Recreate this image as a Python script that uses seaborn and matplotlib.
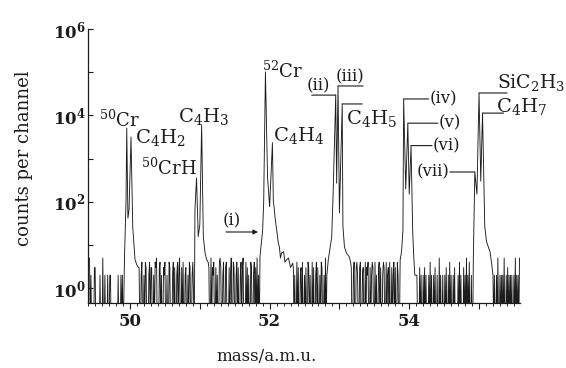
import numpy as np
import pandas as pd
import matplotlib
matplotlib.use("Agg")
import matplotlib.pyplot as plt
import seaborn as sns
from matplotlib.ticker import FixedLocator, FixedFormatter, NullFormatter

# ---------------- data ----------------
# peak tops (mass in a.m.u., counts per channel)
peak_labels = ["$^{50}$Cr", "C$_4$H$_2$", "$^{50}$CrH", "C$_4$H$_3$", "$^{52}$Cr",
               "C$_4$H$_4$", "(ii)", "(iii)", "C$_4$H$_5$", "(iv)", "(v)", "(vi)",
               "(vii)", "SiC$_2$H$_3$", "C$_4$H$_7$"]
peak_mass = [49.953, 50.014, 50.953, 51.026, 51.94, 52.04, 52.947, 52.98, 53.04,
             53.92, 53.98, 54.026, 54.94, 55.0, 55.05]
peak_counts = [5100, 3160, 355, 6000, 102000, 2340, 29500, 48000, 18400,
               24000, 6600, 2000, 490, 33000, 11300]

# feet, dips and tails of the peak groups
shoulder_mass = [49.904, 49.92, 49.943, 49.97, 49.986, 50.039, 50.072, 50.10,
                 50.921, 50.93, 50.977, 51.0, 51.05, 51.075, 51.10,
                 51.853, 51.862, 51.90, 51.915, 51.97, 52.0, 52.053, 52.077, 52.125,
                 52.14, 52.155, 52.17, 52.2, 52.22, 52.24, 52.27, 52.30, 52.33,
                 52.84, 52.89, 52.91, 52.96, 53.0, 53.05, 53.072, 53.1, 53.14,
                 53.87, 53.89, 53.91, 53.95, 54.0, 54.05, 54.065, 54.08,
                 54.91, 54.918, 54.93, 54.97, 55.025, 55.082, 55.107, 55.157, 55.18]
shoulder_counts = [0, 4.5, 110, 42, 65, 26, 4.5, 3.4,
                   0, 65, 15.6, 30, 15.6, 6.5, 4.5,
                   0, 5.4, 22, 100, 380, 77, 110, 45, 11,
                   9, 5, 6.5, 7, 4, 4.5, 5, 3, 3.8,
                   4.5, 15.6, 160, 270, 55, 27, 9.1, 6.5, 5.4,
                   4.5, 7, 22, 200, 150, 20, 5.4, 2,
                   0, 4.5, 65, 150, 300, 27, 12, 7, 3.8]

# background noise between the peak groups: counts per 0.01 a.m.u. channel
noise_start = [49.42, 50.12, 51.12, 52.34, 53.16, 54.10, 55.20]
noise_step = 0.01
noise_digits = [
    "5020000330000002000500200020022000000000020002020",
    "3300240020430002403300204350003402003240020043000240300240350030400230020430024",
    "4300503240030200453002400340003025004300240300240350004030200430024030502",
    "3020040300230400203004302004030024030020430020502",
    "43002400342003400230040324003024300402003403002430040230400302403004200",
    "220003020020302000204020020300200502002002030020402002030000204020003020502040020",
    "202002050020202050020302020200205020205",
]

# axis text
x_tick_values = [50, 51, 52, 53, 54, 55]
x_tick_labels = ["50", "", "52", "", "54", ""]
y_major = [1, 1e2, 1e4, 1e6]
y_major_labels = [r"$\mathbf{10^{0}}$", r"$\mathbf{10^{2}}$", r"$\mathbf{10^{4}}$", r"$\mathbf{10^{6}}$"]
y_minor = [10, 1e3, 1e5]
x_label = "mass/a.m.u."
y_label = "counts per channel"

# arrow (i)
arrow_label = "(i)"
arrow_from_mass, arrow_to_mass, arrow_level = 51.375, 51.834, 20

# ---------------- assemble spectrum ----------------
floor = 0.1  # empty channels drawn down to the axis floor
nm, nc = [], []
for start, digits in zip(noise_start, noise_digits):
    for i, d in enumerate(digits):
        nm.append(start + noise_step * i)
        nc.append(float(d))
mass = np.concatenate([nm, shoulder_mass, peak_mass])
counts = np.concatenate([nc, shoulder_counts, peak_counts])
o = np.argsort(mass)
df = pd.DataFrame({"mass": mass[o], "counts": counts[o]})
df["plot"] = np.where(df["counts"] > 0, df["counts"], floor)

# ---------------- figure ----------------
sns.set_style("ticks")
plt.rcParams["font.family"] = ["DejaVu Serif"]
plt.rcParams["mathtext.fontset"] = "dejavuserif"

fig = plt.figure(figsize=(5.66, 3.68), dpi=100)
ax = fig.add_axes([88 / 566, 1 - 303 / 368, 432 / 566, 274 / 368])
ink = "#1c1c1c"

sns.lineplot(data=df, x="mass", y="plot", estimator=None, sort=False,
             ax=ax, color=ink, lw=0.65)
ax.set_yscale("log")
ax.set_xlim(49.398, 55.587)
ax.set_ylim(10 ** -0.3426, 1e6)

sns.despine(ax=ax)
for s in ("left", "bottom"):
    ax.spines[s].set_color(ink)
    ax.spines[s].set_linewidth(0.9)

ax.xaxis.set_major_locator(FixedLocator(x_tick_values))
ax.xaxis.set_major_formatter(FixedFormatter(x_tick_labels))
ax.xaxis.set_minor_locator(FixedLocator(np.arange(49.4, 55.6, 0.1)))
ax.yaxis.set_major_locator(FixedLocator(y_major))
ax.yaxis.set_major_formatter(FixedFormatter(y_major_labels))
ax.yaxis.set_minor_locator(FixedLocator(y_minor))
ax.yaxis.set_minor_formatter(NullFormatter())
ax.tick_params(axis="x", which="major", direction="out", length=4.3, width=0.8,
               pad=3, labelsize=12, colors=ink)
ax.tick_params(axis="x", which="minor", direction="out", length=2.2, width=0.7, colors=ink)
ax.tick_params(axis="y", which="both", direction="in", length=3.6, width=0.8,
               pad=1.5, labelsize=12, colors=ink)
for t in ax.get_xticklabels():
    t.set_fontweight("bold")

ax.set_xlabel(x_label, fontsize=12, color=ink)
ax.set_ylabel(y_label, fontsize=13, color=ink)
ax.xaxis.set_label_coords(0.414, -0.164)
ax.yaxis.set_label_coords(-0.127, 0.53)

# label layout (pixel offsets from each peak top)
line_px = [0, 0, 0, 0, 0, 0, -24, 25, 20, 25, 30, 21, -25, 28, 21]
dx_px = [-7, 4, 0, 2, -3.4, 0.5, -17, 11.5, 4, 25.5, 30.5, 22, -25.5, 18, 13.5]
dy_px = [1, -6, 3, 3, -6, 2, 1, 1, -4, 0, 0.5, 0, 0, 5, 1]
has = ["center", "left", "right", "center", "left", "left", "center", "center",
       "left", "left", "left", "left", "right", "left", "left"]
vas = ["baseline", "baseline", "baseline", "baseline", "baseline", "baseline",
       "bottom", "bottom", "top", "center", "center", "center", "center",
       "baseline", "baseline"]
sizes = [13, 14, 13, 14, 13, 14, 12, 12, 14, 12, 12, 12, 12, 13.5, 14]
k = 0.72
for lab, m, c, L, dx, dy, ha, va, fs in zip(peak_labels, peak_mass, peak_counts, line_px,
                                            dx_px, dy_px, has, vas, sizes):
    if L:
        ax.annotate("", xy=(m, c), xytext=(L * k, 0), textcoords="offset points",
                    arrowprops=dict(arrowstyle="-", lw=0.8, color=ink, shrinkA=0, shrinkB=0))
    ax.annotate(lab, xy=(m, c), xytext=(dx * k, dy * k), textcoords="offset points",
                ha=ha, va=va, fontsize=fs, color=ink)

ax.annotate("", xy=(arrow_to_mass, arrow_level), xytext=(arrow_from_mass, arrow_level),
            arrowprops=dict(arrowstyle="-|>", lw=0.8, color=ink, mutation_scale=7,
                            shrinkA=0, shrinkB=0))
ax.annotate(arrow_label, xy=(arrow_from_mass, arrow_level), xytext=(6 * k, 3 * k),
            textcoords="offset points", ha="center", va="bottom", fontsize=12, color=ink)

fig.savefig("out.png", dpi=100)
